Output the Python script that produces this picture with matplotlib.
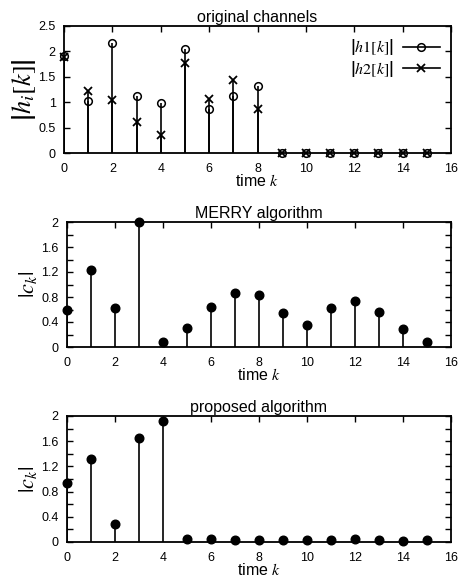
import matplotlib
matplotlib.use('Agg')
import matplotlib.pyplot as plt
import numpy as np

plt.rcParams['font.family'] = ['Liberation Sans', 'DejaVu Sans']
plt.rcParams['mathtext.fontset'] = 'stix'

# 데이터
k = np.arange(16)
h1 = [1.90, 1.03, 2.17, 1.13, 0.98, 2.05, 0.86, 1.13, 1.31, 0, 0, 0, 0, 0, 0, 0]
h2 = [1.89, 1.23, 1.05, 0.62, 0.35, 1.78, 1.06, 1.44, 0.86, 0, 0, 0, 0, 0, 0, 0]
c_merry = [0.60, 1.24, 0.62, 2.00, 0.08, 0.31, 0.64, 0.87, 0.83, 0.54,
           0.36, 0.63, 0.73, 0.56, 0.29, 0.08]
c_prop = [0.93, 1.31, 0.28, 1.65, 1.92, 0.05, 0.04, 0.03, 0.03, 0.03,
          0.03, 0.03, 0.04, 0.03, 0.02, 0.03]
xticks = np.arange(0, 17, 2)

W, H = 458, 577
fig = plt.figure(figsize=(W / 100, H / 100), dpi=100)

def box(l, r, t, b):
    return [l / W, 1 - b / H, (r - l) / W, (b - t) / H]

def style(ax, ymax, major, minor):
    ax.set_xlim(0, 16)
    ax.set_ylim(0, ymax)
    ax.set_xticks(xticks)
    ax.set_yticks(np.arange(0, ymax + 1e-9, major))
    ax.set_yticks(np.arange(0, ymax + 1e-9, minor), minor=True)
    ax.tick_params(which='both', direction='in', top=True, right=True,
                   length=4, width=1, labelsize=9)
    ax.tick_params(axis='x', which='both', bottom=False, pad=7)
    ax.tick_params(axis='y', pad=6)
    ax.tick_params(axis='x', labelbottom=True)
    for s in ax.spines.values():
        s.set_linewidth(1.3)
    ax.set_xlabel('time $\\it{k}$', fontsize=11.5, labelpad=-1)

# 1. original channels
ax1 = fig.add_axes(box(64, 451, 26, 153))
ax1.vlines(k, 0, h1, color='black', lw=1.2)
ax1.vlines(k, 0, h2, color='black', lw=1.2)
ax1.plot(k, h1, 'o', mfc='none', mec='black', ms=5.5, mew=1.1, clip_on=False)
ax1.plot(k, h2, 'x', color='black', ms=6, mew=1.3, clip_on=False)
# 범례용 핸들 (선 + 마커)
hl1, = ax1.plot([], [], '-o', color='black', mfc='none', ms=5.5, mew=1.1, lw=1.2)
hl2, = ax1.plot([], [], '-x', color='black', ms=6, mew=1.3, lw=1.2)
ax1.legend([hl1, hl2], [r'$\left|h\mathrm{1}[k]\right|$', r'$\left|h\mathrm{2}[k]\right|$'],
           loc='upper right', frameon=False, markerfirst=False, fontsize=11.5,
           handlelength=2.3, labelspacing=0.1, borderaxespad=0.3, handletextpad=0.6)
style(ax1, 2.5, 0.5, 0.5)
ax1.set_yticklabels(['0', '0.5', '1', '1.5', '2', '2.5'])
ax1.set_ylabel(r'$\left|h_i[k]\right|$', fontsize=19, labelpad=0)
ax1.set_title('original channels', fontsize=11.5, pad=3)

# 2. MERRY algorithm
ax2 = fig.add_axes(box(67, 451, 222, 347))
ax2.vlines(k, 0, c_merry, color='black', lw=1.2)
ax2.plot(k, c_merry, 'o', color='black', ms=6.2, clip_on=False)
style(ax2, 2.0, 0.4, 0.2)
ax2.set_yticklabels(['0', '0.4', '0.8', '1.2', '1.6', '2'])
ax2.set_ylabel(r'$|c_k|$', fontsize=16, labelpad=2)
ax2.set_title('MERRY algorithm', fontsize=11.5, pad=3)

# 3. proposed algorithm
ax3 = fig.add_axes(box(67, 451, 416, 542))
ax3.vlines(k, 0, c_prop, color='black', lw=1.2)
ax3.plot(k, c_prop, 'o', color='black', ms=6.2, clip_on=False)
style(ax3, 2.0, 0.4, 0.2)
ax3.set_yticklabels(['0', '0.4', '0.8', '1.2', '1.6', '2'])
ax3.set_ylabel(r'$|c_k|$', fontsize=16, labelpad=2)
ax3.set_title('proposed algorithm', fontsize=11.5, pad=3)

fig.savefig('out.png', dpi=100)
